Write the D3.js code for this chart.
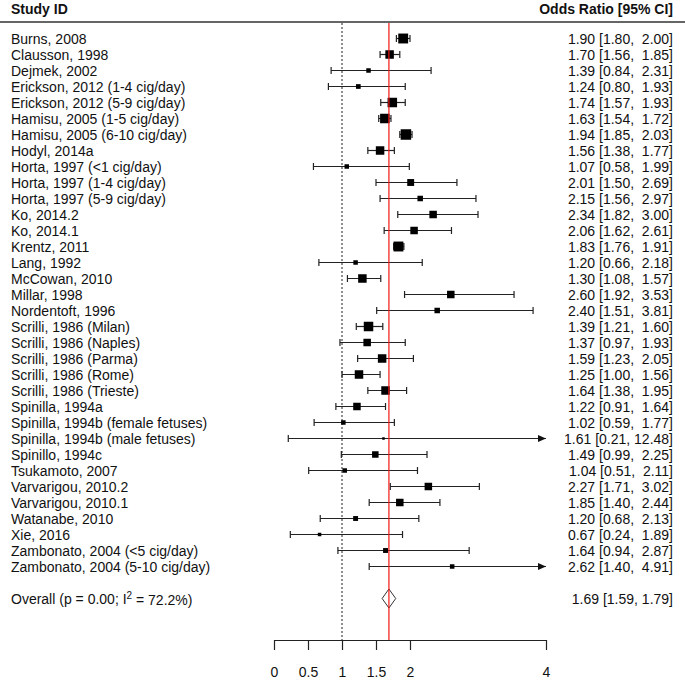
<!DOCTYPE html>
<html>
<head>
<meta charset="utf-8"/>
<style>
  body { margin: 0; background: #fff; }
  svg text { font-family: "Liberation Sans", Arial, sans-serif; font-size: 14px; fill: #111; }
  .hdr { font-weight: bold; }
  .val { white-space: pre; }
</style>
</head>
<body>
<svg id="chart" width="685" height="680"></svg>
<script src="https://d3js.org/d3.v7.min.js"></script>
<script>
// study labels
const studies = [
  "Burns, 2008", "Clausson, 1998", "Dejmek, 2002",
  "Erickson, 2012 (1-4 cig/day)", "Erickson, 2012 (5-9 cig/day)",
  "Hamisu, 2005 (1-5 cig/day)", "Hamisu, 2005 (6-10 cig/day)", "Hodyl, 2014a",
  "Horta, 1997 (<1 cig/day)", "Horta, 1997 (1-4 cig/day)", "Horta, 1997 (5-9 cig/day)",
  "Ko, 2014.2", "Ko, 2014.1", "Krentz, 2011", "Lang, 1992", "McCowan, 2010",
  "Millar, 1998", "Nordentoft, 1996",
  "Scrilli, 1986 (Milan)", "Scrilli, 1986 (Naples)", "Scrilli, 1986 (Parma)",
  "Scrilli, 1986 (Rome)", "Scrilli, 1986 (Trieste)",
  "Spinilla, 1994a", "Spinilla, 1994b (female fetuses)", "Spinilla, 1994b (male fetuses)",
  "Spinillo, 1994c", "Tsukamoto, 2007", "Varvarigou, 2010.2", "Varvarigou, 2010.1",
  "Watanabe, 2010", "Xie, 2016",
  "Zambonato, 2004 (<5 cig/day)", "Zambonato, 2004 (5-10 cig/day)"
];
const oddsRatio = [1.90, 1.70, 1.39, 1.24, 1.74, 1.63, 1.94, 1.56, 1.07, 2.01, 2.15,
  2.34, 2.06, 1.83, 1.20, 1.30, 2.60, 2.40, 1.39, 1.37, 1.59, 1.25, 1.64,
  1.22, 1.02, 1.61, 1.49, 1.04, 2.27, 1.85, 1.20, 0.67, 1.64, 2.62];
const lower = [1.80, 1.56, 0.84, 0.80, 1.57, 1.54, 1.85, 1.38, 0.58, 1.50, 1.56,
  1.82, 1.62, 1.76, 0.66, 1.08, 1.92, 1.51, 1.21, 0.97, 1.23, 1.00, 1.38,
  0.91, 0.59, 0.21, 0.99, 0.51, 1.71, 1.40, 0.68, 0.24, 0.94, 1.40];
const upper = [2.00, 1.85, 2.31, 1.93, 1.93, 1.72, 2.03, 1.77, 1.99, 2.69, 2.97,
  3.00, 2.61, 1.91, 2.18, 1.57, 3.53, 3.81, 1.60, 1.93, 2.05, 1.56, 1.95,
  1.64, 1.77, 12.48, 2.25, 2.11, 3.02, 2.44, 2.13, 1.89, 2.87, 4.91];
// approximate study weights (%)
const weights = [4.3, 3.6, 1.6, 1.7, 4.1, 4.1, 4.6, 3.6, 1.6, 2.8, 2.1,
  3.1, 3.1, 4.3, 1.6, 3.6, 3.1, 2.1, 4.1, 3.1, 3.6, 3.6, 3.6,
  3.1, 1.6, 0.6, 2.6, 1.6, 3.1, 3.1, 1.8, 1.1, 1.8, 1.6];

const overall = { est: 1.69, lo: 1.59, hi: 1.79, p: "0.00", i2: "72.2%" };
const tickValues = [0, 0.5, 1, 1.5, 2, 4];

const svg = d3.select("#chart");
const x = d3.scaleLinear().domain([0, 4]).range([274, 546]);
const y = d3.scaleLinear().domain([0, 35]).range([38.5, 598.5]);
const size = d3.scaleLinear().domain([0.6, 4.6]).range([2.5, 10.5]);
const f2 = d3.format(".2f");
const xMax = x.domain()[1];
const plotTop = 23, axisY = 640;

// header
svg.append("text").attr("class", "hdr").attr("x", 11).attr("y", 14).text("Study ID");
svg.append("text").attr("class", "hdr").attr("x", 673).attr("y", 14)
  .attr("text-anchor", "end").text("Odds Ratio [95% CI]");
svg.append("line").attr("x1", 0).attr("x2", 685).attr("y1", 22).attr("y2", 22)
  .attr("stroke", "#333").attr("stroke-width", 1.3);

// reference line at 1
svg.append("line").attr("x1", x(1)).attr("x2", x(1)).attr("y1", plotTop).attr("y2", axisY)
  .attr("stroke", "#222").attr("stroke-dasharray", "2,2");

const rows = studies.map((s, i) => ({ s, i, est: oddsRatio[i], lo: lower[i], hi: upper[i], w: weights[i] }));

const g = svg.append("g");
const row = g.selectAll("g.row").data(rows).enter().append("g").attr("class", "row");

row.append("text").attr("x", 11).attr("y", d => y(d.i)).attr("dy", "0.36em").text(d => d.s);
row.append("text").attr("class", "val").attr("x", 673).attr("y", d => y(d.i)).attr("dy", "0.36em")
  .attr("text-anchor", "end")
  .text(d => `${f2(d.est)} [${f2(d.lo)}, ${f2(d.hi).padStart(5, " ")}]`);

// CI lines
row.append("line")
  .attr("x1", d => x(d.lo)).attr("x2", d => x(Math.min(d.hi, xMax)))
  .attr("y1", d => y(d.i)).attr("y2", d => y(d.i))
  .attr("stroke", "#222").attr("stroke-width", 1.2);
row.append("line")
  .attr("x1", d => x(d.lo)).attr("x2", d => x(d.lo))
  .attr("y1", d => y(d.i) - 3.5).attr("y2", d => y(d.i) + 3.5)
  .attr("stroke", "#222").attr("stroke-width", 1.2);
row.filter(d => d.hi <= xMax).append("line")
  .attr("x1", d => x(d.hi)).attr("x2", d => x(d.hi))
  .attr("y1", d => y(d.i) - 3.5).attr("y2", d => y(d.i) + 3.5)
  .attr("stroke", "#222").attr("stroke-width", 1.2);
row.filter(d => d.hi > xMax).append("path")
  .attr("d", d => `M${x(xMax)},${y(d.i)}l-8,-3.5v7z`)
  .attr("fill", "#111");

// boxes
row.append("rect")
  .attr("x", d => x(d.est) - size(d.w) / 2).attr("y", d => y(d.i) - size(d.w) / 2)
  .attr("width", d => size(d.w)).attr("height", d => size(d.w))
  .attr("fill", "#000");

// overall
const oy = y(35);
const ot = svg.append("text").attr("x", 11).attr("y", oy).attr("dy", "0.36em");
ot.append("tspan").text(`Overall (p = ${overall.p}; I`);
ot.append("tspan").attr("dy", "-0.45em").attr("font-size", "10px").text("2");
ot.append("tspan").attr("dy", "0.45em").text(` = ${overall.i2})`);
svg.append("text").attr("x", 673).attr("y", oy).attr("dy", "0.36em").attr("text-anchor", "end")
  .text(`${f2(overall.est)} [${f2(overall.lo)}, ${f2(overall.hi)}]`);
svg.append("path")
  .attr("d", `M${x(overall.lo)},${oy}L${x(overall.est)},${oy - 9.5}L${x(overall.hi)},${oy}L${x(overall.est)},${oy + 9.5}Z`)
  .attr("fill", "#fff").attr("stroke", "#333").attr("stroke-width", 1);

// summary line
svg.append("line").attr("x1", x(overall.est)).attr("x2", x(overall.est))
  .attr("y1", plotTop).attr("y2", axisY)
  .attr("stroke", "#f01818").attr("stroke-width", 1.2);

// axis
const axis = svg.append("g").attr("transform", `translate(0,${axisY})`)
  .call(d3.axisBottom(x).tickValues(tickValues).tickFormat(d3.format("")).tickSize(10).tickSizeOuter(0).tickPadding(17));
axis.select(".domain").attr("stroke", "#222").attr("stroke-width", 1.2);
axis.selectAll(".tick line").attr("stroke", "#222").attr("stroke-width", 1.2);
axis.selectAll("text").style("font-family", "'Liberation Sans', Arial, sans-serif").style("font-size", "14px").attr("fill", "#111");
</script>
</body>
</html>
